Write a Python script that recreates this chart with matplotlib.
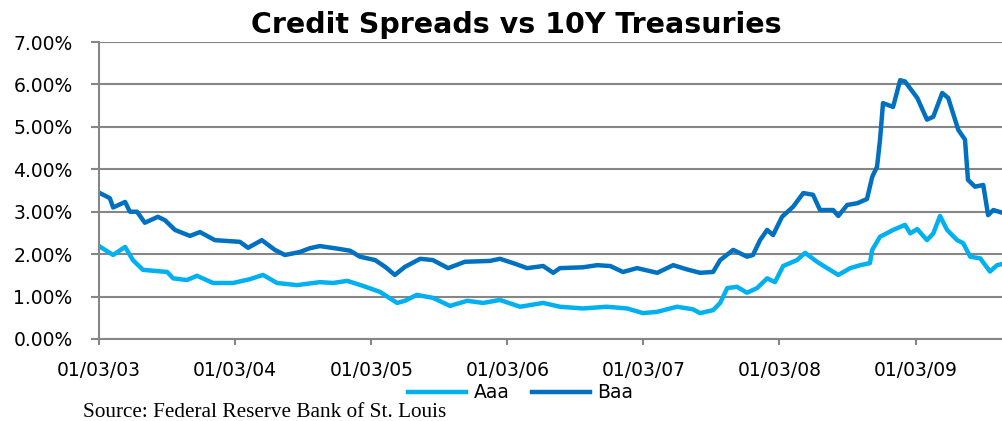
import numpy as np
import pandas as pd
import matplotlib
matplotlib.use("Agg")
import matplotlib.pyplot as plt
import matplotlib.dates as mdates

# spreads over 10Y treasuries, %
baa_dates = ["2003-01-03", "2003-02-01", "2003-02-10", "2003-03-14", "2003-03-27", "2003-04-15",
             "2003-05-06", "2003-06-10", "2003-06-29", "2003-07-26", "2003-09-04", "2003-10-01",
             "2003-11-10", "2004-01-16", "2004-02-07", "2004-03-15", "2004-04-19", "2004-05-16",
             "2004-06-25", "2004-07-22", "2004-08-18", "2004-10-11", "2004-11-07", "2004-12-03",
             "2005-01-13", "2005-02-09", "2005-03-07", "2005-04-03", "2005-05-14", "2005-06-17",
             "2005-07-28", "2005-09-11", "2005-11-17", "2005-12-14", "2006-01-18", "2006-02-25",
             "2006-04-09", "2006-05-06", "2006-05-24", "2006-07-25", "2006-09-01", "2006-10-06",
             "2006-11-09", "2006-12-17", "2007-02-09", "2007-03-24", "2007-04-30", "2007-06-04",
             "2007-07-09", "2007-07-28", "2007-09-01", "2007-10-08", "2007-10-24", "2007-11-12",
             "2007-12-01", "2007-12-17", "2008-01-10", "2008-02-09", "2008-03-07", "2008-04-02",
             "2008-04-21", "2008-05-26", "2008-06-09", "2008-07-03", "2008-07-30", "2008-08-25",
             "2008-09-08", "2008-09-21", "2008-09-29", "2008-10-07", "2008-11-03", "2008-11-22",
             "2008-12-05", "2009-01-07", "2009-02-02", "2009-02-19", "2009-03-15", "2009-03-31",
             "2009-04-27", "2009-05-15", "2009-05-23", "2009-06-11", "2009-07-03", "2009-07-16",
             "2009-07-30", "2009-08-25"]
baa = [3.45, 3.32, 3.10, 3.23, 3.00, 3.00,
       2.74, 2.88, 2.80, 2.57, 2.43, 2.52,
       2.33, 2.29, 2.15, 2.33, 2.10, 1.98,
       2.05, 2.14, 2.19, 2.12, 2.08, 1.94,
       1.86, 1.70, 1.51, 1.70, 1.89, 1.86,
       1.67, 1.82, 1.84, 1.89, 1.79, 1.67,
       1.72, 1.56, 1.67, 1.69, 1.74, 1.72,
       1.58, 1.67, 1.56, 1.74, 1.64, 1.56,
       1.58, 1.86, 2.10, 1.94, 1.98, 2.33,
       2.57, 2.45, 2.88, 3.12, 3.44, 3.40,
       3.04, 3.04, 2.90, 3.16, 3.20, 3.30,
       3.82, 4.06, 4.70, 5.56, 5.47, 6.10,
       6.07, 5.68, 5.17, 5.24, 5.80, 5.68,
       4.93, 4.70, 3.75, 3.59, 3.63, 2.92,
       3.04, 2.97]

aaa_dates = ["2003-01-03", "2003-02-10", "2003-03-14", "2003-04-04", "2003-05-01", "2003-07-05",
             "2003-07-21", "2003-08-27", "2003-09-23", "2003-11-05", "2003-12-29", "2004-02-12",
             "2004-03-18", "2004-04-25", "2004-06-17", "2004-08-18", "2004-09-22", "2004-10-30",
             "2004-12-12", "2005-01-26", "2005-03-13", "2005-04-03", "2005-05-05", "2005-06-17",
             "2005-08-02", "2005-09-17", "2005-10-30", "2005-12-14", "2006-02-06", "2006-04-09",
             "2006-05-24", "2006-07-25", "2006-09-27", "2006-11-20", "2007-01-02", "2007-02-09",
             "2007-04-03", "2007-05-16", "2007-06-04", "2007-07-09", "2007-07-28", "2007-08-16",
             "2007-09-11", "2007-10-08", "2007-11-04", "2007-12-01", "2007-12-22", "2008-01-13",
             "2008-02-19", "2008-03-12", "2008-04-13", "2008-05-10", "2008-06-09", "2008-07-11",
             "2008-08-07", "2008-09-02", "2008-09-08", "2008-09-29", "2008-11-03", "2008-12-05",
             "2008-12-19", "2009-01-07", "2009-02-02", "2009-02-19", "2009-03-09", "2009-03-28",
             "2009-04-24", "2009-05-10", "2009-05-29", "2009-06-25", "2009-07-21", "2009-08-09",
             "2009-08-25"]
aaa = [2.19, 1.98, 2.17, 1.86, 1.63, 1.58,
       1.43, 1.39, 1.49, 1.32, 1.32, 1.41,
       1.51, 1.32, 1.27, 1.34, 1.32, 1.37,
       1.25, 1.11, 0.85, 0.90, 1.04, 0.97,
       0.78, 0.90, 0.85, 0.92, 0.76, 0.85,
       0.76, 0.72, 0.76, 0.72, 0.61, 0.64,
       0.76, 0.70, 0.61, 0.68, 0.85, 1.20,
       1.23, 1.09, 1.20, 1.43, 1.34, 1.72,
       1.86, 2.03, 1.82, 1.67, 1.51, 1.67,
       1.74, 1.79, 2.10, 2.41, 2.57, 2.69,
       2.49, 2.59, 2.33, 2.49, 2.90, 2.57,
       2.33, 2.26, 1.94, 1.90, 1.59, 1.74,
       1.77]

tick_dates = ["2003-01-03", "2004-01-03", "2005-01-03", "2006-01-03",
              "2007-01-03", "2008-01-03", "2009-01-03"]

grey = "#868686"

fig = plt.figure(figsize=(10.03, 4.21), dpi=100)
ax = fig.add_axes([0.0987, 0.1948, 0.9013, 0.7054])

ax.plot(pd.to_datetime(aaa_dates), aaa, color="#00B0F0", lw=3.2, label="Aaa")
ax.plot(pd.to_datetime(baa_dates), baa, color="#0070C0", lw=3.2, label="Baa")

ax.set_ylim(0, 7)
ax.set_yticks(np.arange(0, 8, 1))
ax.yaxis.set_major_formatter(lambda v, p: "%.2f%%" % v)
ax.set_xlim(pd.Timestamp("2003-01-03"), pd.Timestamp("2009-08-25"))
ax.set_xticks(pd.to_datetime(tick_dates))
ax.xaxis.set_major_formatter(mdates.DateFormatter("%m/%d/%y"))

ax.grid(axis="y", color=grey, lw=1.5)
ax.set_axisbelow(True)
for s in ["top", "right"]:
    ax.spines[s].set_visible(False)
for s in ["left", "bottom"]:
    ax.spines[s].set_color(grey)
    ax.spines[s].set_linewidth(1.5)
ax.tick_params(axis="y", length=6, width=1.5, color=grey, pad=13, labelsize=13.5)
ax.tick_params(axis="x", length=4.5, width=1.5, color=grey, pad=11, labelsize=13.5)

fig.text(0.515, 0.9216, "Credit Spreads vs 10Y Treasuries", ha="center", va="baseline",
         fontsize=20.5, fontweight="heavy")
fig.legend(loc="center", bbox_to_anchor=(0.519, 0.067), ncol=2, frameon=False,
           fontsize=13.5, handlelength=3.1, handletextpad=0.4, columnspacing=1.2)
fig.text(0.0828, 0.0095, "Source: Federal Reserve Bank of St. Louis", ha="left", va="baseline",
         fontsize=15.3, family="Liberation Serif")

fig.savefig("out.png", dpi=100)
